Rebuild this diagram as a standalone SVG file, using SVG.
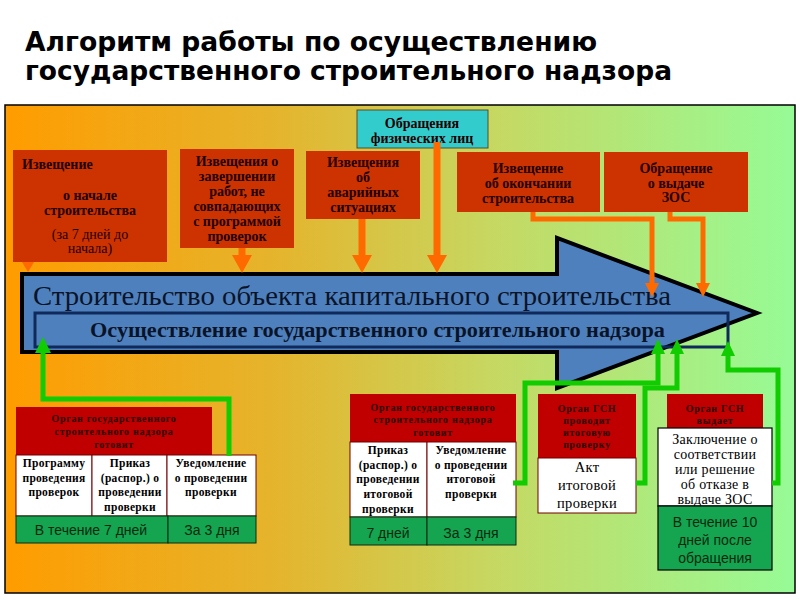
<svg xmlns="http://www.w3.org/2000/svg" width="800" height="600" viewBox="0 0 800 600">
<defs>
<linearGradient id="bg" x1="0" y1="0" x2="1" y2="0">
<stop offset="0" stop-color="#FF9C00"/>
<stop offset="0.35" stop-color="#E4B52E"/>
<stop offset="0.62" stop-color="#C6D862"/>
<stop offset="1" stop-color="#96FB96"/>
</linearGradient>
<style>
.title{font-family:"DejaVu Sans",sans-serif;font-weight:bold;font-size:27px;fill:#000}
.tb{fill:#CC3300}
.tt{font-family:"Liberation Serif",serif;font-weight:bold;font-size:14px;fill:#1E0000;text-anchor:middle}
.tn{font-weight:normal}
.rh{fill:#C00000}
.rt{font-family:"Liberation Serif",serif;font-weight:bold;font-size:10px;fill:#2A0000;text-anchor:middle;letter-spacing:0.7px}
.wc{fill:#fff;stroke:#700000;stroke-width:1}
.wt{font-family:"Liberation Serif",serif;font-weight:bold;font-size:11.5px;fill:#000;text-anchor:middle;letter-spacing:0.3px}
.gc{fill:#15A550;stroke:#0A2A10;stroke-width:1}
.gt{font-family:"Liberation Sans",sans-serif;font-size:14px;fill:#062A0E;text-anchor:middle}
.bt{font-family:"Liberation Serif",serif;font-size:14.5px;fill:#000;text-anchor:middle;letter-spacing:0.3px}
.bs{font-size:14px}
.or{fill:none;stroke:#FF6A00;stroke-width:5}
.orh{fill:#FF6A00}
.gr{fill:none;stroke:#11CC00;stroke-width:5}
.grh{fill:#11CC00}
</style>
</defs>
<rect x="0" y="0" width="800" height="600" fill="#fff"/>
<text class="title" x="25" y="51" textLength="572" lengthAdjust="spacingAndGlyphs">Алгоритм работы по осуществлению</text>
<text class="title" x="25" y="80" textLength="647" lengthAdjust="spacingAndGlyphs">государственного строительного надзора</text>
<rect x="5" y="105" width="790" height="488" fill="url(#bg)" stroke="#000" stroke-width="1.5"/>

<g id="main-arrow">
<polygon points="22,274 557,274 557,238 757,313 557,388 557,352 22,352" fill="#4F80BE" stroke="#000" stroke-width="4" stroke-linejoin="miter"/>
<text x="33" y="305" font-family="Liberation Serif, serif" font-size="27" fill="#0A1428" textLength="638" lengthAdjust="spacingAndGlyphs">Строительство объекта капитального строительства</text>
</g>
<g id="gsn-bar">
<rect x="35" y="313" width="693" height="34" fill="none" stroke="#0F2A5A" stroke-width="3"/>
<text x="90" y="337" font-family="Liberation Serif, serif" font-weight="bold" font-size="20" fill="#0A1428" textLength="575" lengthAdjust="spacingAndGlyphs">Осуществление государственного строительного надзора</text>
</g>

<g id="n-start">
<rect class="tb" x="13" y="150" width="154" height="112"/>
<text class="tt" x="22" y="169" style="text-anchor:start">Извещение</text>
<text class="tt" x="90" y="200">о начале</text>
<text class="tt" x="90" y="215">строительства</text>
<text class="tt tn" x="90" y="239">(за 7 дней до</text>
<text class="tt tn" x="90" y="253">начала)</text>
</g>
<g id="n-finish-works">
<rect class="tb" x="180" y="149" width="114" height="99"/>
<text class="tt" x="237" y="166">Извещения о</text>
<text class="tt" x="237" y="181">завершении</text>
<text class="tt" x="237" y="196">работ, не</text>
<text class="tt" x="237" y="211">совпадающих</text>
<text class="tt" x="237" y="226">с программой</text>
<text class="tt" x="237" y="241">проверок</text>
</g>
<g id="n-emergency">
<rect class="tb" x="306" y="151" width="114" height="68"/>
<text class="tt" x="363" y="167">Извещения</text>
<text class="tt" x="363" y="182">об</text>
<text class="tt" x="363" y="197">аварийных</text>
<text class="tt" x="363" y="212">ситуациях</text>
</g>
<g id="n-citizens">
<rect x="357" y="110" width="131" height="38" fill="#33CCCC" stroke="#5A4A2A" stroke-width="1"/>
<text class="tt" x="422" y="128">Обращения</text>
<text class="tt" x="422" y="143">физических лиц</text>
</g>
<g id="n-end">
<rect class="tb" x="457" y="152" width="143" height="60"/>
<text class="tt" x="528" y="173">Извещение</text>
<text class="tt" x="528" y="188">об окончании</text>
<text class="tt" x="528" y="203">строительства</text>
</g>
<g id="n-zos-request">
<rect class="tb" x="604" y="152" width="144" height="60"/>
<text class="tt" x="676" y="173">Обращение</text>
<text class="tt" x="676" y="188">о выдаче</text>
<text class="tt" x="676" y="202">ЗОС</text>
</g>

<g id="n-prep">
<rect class="rh" x="16" y="407" width="196" height="48"/>
<text class="rt" x="114" y="422">Орган государственного</text>
<text class="rt" x="114" y="435">строительного надзора</text>
<text class="rt" x="114" y="448">готовит</text>
<rect class="wc" x="16" y="455" width="76" height="61"/>
<rect class="wc" x="92" y="455" width="75" height="61"/>
<rect class="wc" x="167" y="455" width="89" height="61"/>
<text class="wt" x="54" y="467">Программу</text>
<text class="wt" x="54" y="482">проведения</text>
<text class="wt" x="54" y="496">проверок</text>
<text class="wt" x="130" y="467">Приказ</text>
<text class="wt" x="130" y="482">(распор.) о</text>
<text class="wt" x="130" y="496">проведении</text>
<text class="wt" x="130" y="511">проверки</text>
<text class="wt" x="211" y="467">Уведомление</text>
<text class="wt" x="211" y="482">о проведении</text>
<text class="wt" x="211" y="496">проверки</text>
<rect class="gc" x="16" y="516" width="152" height="27"/>
<rect class="gc" x="168" y="516" width="88" height="27"/>
<text class="gt" x="91" y="535">В течение 7 дней</text>
<text class="gt" x="212" y="535">За 3 дня</text>
</g>

<g id="n-final-prep">
<rect class="rh" x="350" y="394" width="166" height="48"/>
<text class="rt" x="433" y="411">Орган государственного</text>
<text class="rt" x="433" y="423">строительного надзора</text>
<text class="rt" x="433" y="436">готовит</text>
<rect class="wc" x="350" y="442" width="77" height="75"/>
<rect class="wc" x="427" y="442" width="89" height="75"/>
<text class="wt" x="388" y="454">Приказ</text>
<text class="wt" x="388" y="469">(распор.) о</text>
<text class="wt" x="388" y="483">проведении</text>
<text class="wt" x="388" y="498">итоговой</text>
<text class="wt" x="388" y="513">проверки</text>
<text class="wt" x="471" y="454">Уведомление</text>
<text class="wt" x="471" y="469">о проведении</text>
<text class="wt" x="471" y="483">итоговой</text>
<text class="wt" x="471" y="498">проверки</text>
<rect class="gc" x="350" y="517" width="77" height="28"/>
<rect class="gc" x="427" y="517" width="89" height="28"/>
<text class="gt" x="388" y="538">7 дней</text>
<text class="gt" x="471" y="538">За 3 дня</text>
</g>

<g id="n-final-check">
<rect class="rh" x="538" y="394" width="98" height="64"/>
<text class="rt" x="587" y="412">Орган ГСН</text>
<text class="rt" x="587" y="424">проводит</text>
<text class="rt" x="587" y="436">итоговую</text>
<text class="rt" x="587" y="448">проверку</text>
<rect class="wc" x="538" y="458" width="98" height="55"/>
<text class="bt" x="587" y="472">Акт</text>
<text class="bt" x="587" y="490">итоговой</text>
<text class="bt" x="587" y="508">проверки</text>
</g>

<g id="n-zos">
<rect class="rh" x="667" y="394" width="96" height="36"/>
<text class="rt" x="715" y="412">Орган ГСН</text>
<text class="rt" x="715" y="424">выдает</text>
<rect x="658" y="428" width="114" height="78" fill="#fff" stroke="#000" stroke-width="1.2"/>
<text class="bt bs" x="715" y="444">Заключение о</text>
<text class="bt bs" x="715" y="459">соответствии</text>
<text class="bt bs" x="715" y="474">или решение</text>
<text class="bt bs" x="715" y="489">об отказе в</text>
<text class="bt bs" x="715" y="504">выдаче ЗОС</text>
<rect x="658" y="506" width="114" height="64" fill="#15A550" stroke="#000" stroke-width="1.2"/>
<text class="gt" x="715" y="527">В течение 10</text>
<text class="gt" x="715" y="545">дней после</text>
<text class="gt" x="715" y="563">обращения</text>
</g>

<g id="connectors">
<polygon class="orh" points="22,262 34,262 28,272"/>
<line class="or" x1="242" y1="248" x2="242" y2="257" style="stroke-width:7"/>
<polygon class="orh" points="232,255 252,255 242,273"/>
<line class="or" x1="362" y1="219" x2="362" y2="257" style="stroke-width:7"/>
<polygon class="orh" points="352,255 372,255 362,273"/>
<line class="or" x1="437" y1="142" x2="437" y2="257" style="stroke-width:7"/>
<polygon class="orh" points="427,255 447,255 437,273"/>
<polyline class="or" points="533,212 533,219 652,219 652,285"/>
<polygon class="orh" points="645,283 659,283 652,297"/>
<polyline class="or" points="670,212 670,219 703,219 703,285"/>
<polygon class="orh" points="696,283 710,283 703,297"/>

<polyline class="gr" points="229,456 229,399 43,399 43,351"/>
<polygon class="grh" points="35,353 51,353 43,337"/>
<polyline class="gr" points="513,483 525,483 525,383 658,383 658,352"/>
<polygon class="grh" points="651,354 665,354 658,339"/>
<polyline class="gr" points="636,483 645,483 645,388 677,388 677,352"/>
<polygon class="grh" points="670,354 684,354 677,339"/>
<polyline class="gr" points="772,483 778,483 778,370 728,370 728,354"/>
<polygon class="grh" points="721,356 735,356 728,341"/>
</g>
</svg>
